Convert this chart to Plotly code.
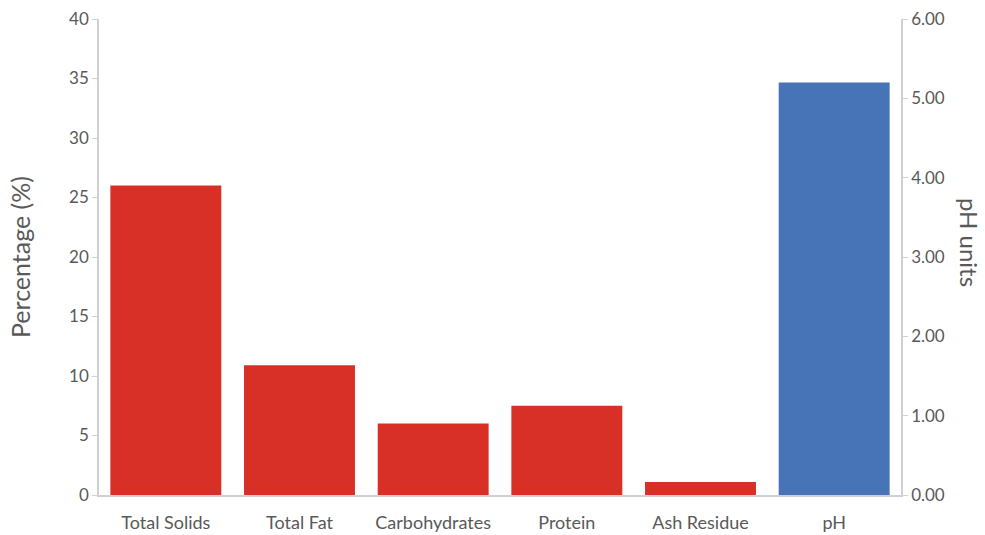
import plotly.graph_objects as go

# Composition values (percent, left axis) and pH (right axis)
categories = ["Total Solids", "Total Fat", "Carbohydrates", "Protein", "Ash Residue", "pH"]
percent_categories = ["Total Solids", "Total Fat", "Carbohydrates", "Protein", "Ash Residue"]
percent_values = [26.0, 10.9, 6.0, 7.5, 1.1]
ph_categories = ["pH"]
ph_values = [5.2]

left_ticks = [0, 5, 10, 15, 20, 25, 30, 35, 40]
right_ticks = [0, 1, 2, 3, 4, 5, 6]
right_tick_text = [f"{v:.2f}" for v in right_ticks]

font_family = "Lato, 'Open Sans', sans-serif"
text_grey = "#595959"
axis_grey = "#d0d0d0"

ML, MR, MT, MB = 99, 84, 19, 40
W, H = 985, 535

fig = go.Figure()
fig.add_trace(go.Bar(
    x=percent_categories, y=percent_values,
    marker=dict(color="#D83027", line=dict(width=0)),
    yaxis="y", name="Percentage",
))
fig.add_trace(go.Bar(
    x=ph_categories, y=ph_values,
    marker=dict(color="#4674B7", line=dict(width=0)),
    yaxis="y2", name="pH",
))

fig.update_layout(
    width=W, height=H,
    margin=dict(l=ML, r=MR, t=MT, b=MB, autoexpand=False),
    paper_bgcolor="white", plot_bgcolor="white",
    showlegend=False,
    barmode="overlay",
    bargap=0.17,
    font=dict(family=font_family, color=text_grey, size=17),
    xaxis=dict(
        categoryorder="array", categoryarray=categories,
        showline=True, linecolor=axis_grey, linewidth=1.5,
        ticks="", showgrid=False, automargin=False,
        ticklabelstandoff=11,
        tickfont=dict(size=18, color=text_grey),
    ),
    yaxis=dict(
        range=[0, 40], tickvals=left_ticks,
        showline=True, linecolor=axis_grey, linewidth=1.5,
        ticks="outside", ticklen=5, tickcolor=axis_grey,
        showgrid=False, zeroline=False, automargin=False,
        tickfont=dict(size=17, color=text_grey),
    ),
    yaxis2=dict(
        range=[0, 6], tickvals=right_ticks, ticktext=right_tick_text,
        overlaying="y", side="right",
        showline=True, linecolor=axis_grey, linewidth=1.5,
        ticks="outside", ticklen=5, tickcolor=axis_grey,
        showgrid=False, zeroline=False, automargin=False,
        tickfont=dict(size=17, color=text_grey),
    ),
)

# Axis titles placed at pixel positions, converted to paper coordinates
plot_w = W - ML - MR
plot_h = H - MT - MB
titles = [
    ("Percentage (%)", 20, 257, -90, 25),
    ("pH units", 970, 242, 90, 24),
]
for text, px, py, angle, size in titles:
    fig.add_annotation(
        text=text, showarrow=False, textangle=angle,
        x=(px - ML) / plot_w, y=(H - MB - py) / plot_h,
        xref="paper", yref="paper", xanchor="center", yanchor="middle",
        font=dict(size=size, color=text_grey),
    )

fig.write_html("out.html")
